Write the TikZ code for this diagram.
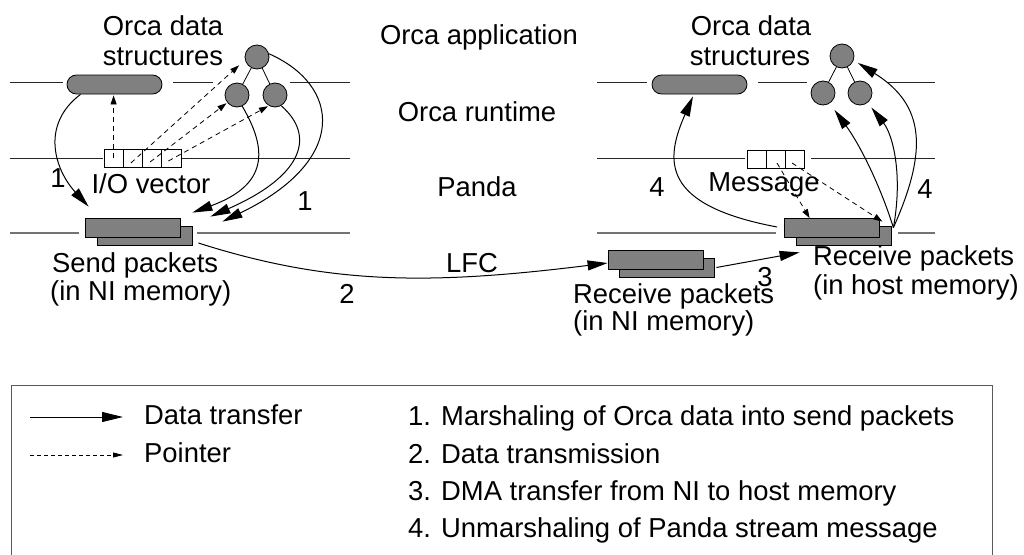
\documentclass[tikz,border=0pt]{standalone}
\usepackage{fontspec}
\setmainfont{Liberation Sans}
\usetikzlibrary{arrows.meta}
\definecolor{fillg}{RGB}{128,128,128}
\begin{document}
\begin{tikzpicture}[x=1pt,y=-1pt,
  lbl/.style={font=\fontsize{27.4}{30}\selectfont, inner sep=0pt},
  layer/.style={line width=1pt, black!85},
  layerb/.style={line width=1.5pt, black!55},
  pill/.style={draw=black, line width=0.8pt, fill=fillg, rounded corners=9.5pt, minimum width=95pt, minimum height=19pt, inner sep=0pt},
  dnode/.style={circle, draw=black, line width=0.8pt, fill=fillg, minimum size=24pt, inner sep=0pt},
  pkt/.style={draw=black, line width=0.8pt, fill=fillg, minimum width=95pt, minimum height=19pt, inner sep=0pt},
  cell/.style={draw=black, line width=0.6pt, fill=white, minimum width=19.25pt, minimum height=18pt, inner sep=0pt},
  data/.style={line width=1pt, -{Triangle[length=20pt,width=10pt]}},
  ptr/.style={line width=0.8pt, dash pattern=on 5pt off 4pt, -{Triangle[length=9pt,width=6pt]}},
  lptr/.style={line width=0.8pt, dash pattern=on 4pt off 3pt, -{Triangle[length=10pt,width=5pt]}},
  ldata/.style={line width=1pt, -{Triangle[length=21pt,width=10pt]}}
]
\useasboundingbox (0,0) rectangle (1024,554);

% layer lines
\draw[layer] (10,82) -- (63,82) (173,82) -- (213,82) (290,82) -- (350,82);
\draw[layer] (597,82) -- (647,82) (758,82) -- (807,82) (887,82) -- (935,82);
\draw[layer] (10,158) -- (103,158) (181,158) -- (350,158);
\draw[layer] (597,158) -- (745,158) (811,158) -- (935,158);
\draw[layerb] (10,233) -- (79,233) (197,233) -- (350,233);
\draw[layerb] (597,233) -- (776,233) (898,233) -- (935,233);

% left structures
\node[pill] (pL) at (114.5,84.5) {};
\node[dnode] (cLt) at (257,57) {};
\node[dnode] (cLl) at (237,95) {};
\node[dnode] (cLr) at (275,95) {};
\draw[line width=0.8pt] (cLt) -- (cLl);
\draw[line width=0.8pt] (cLt) -- (cLr);

% I/O vector
\node[cell] (io1) at (113.6,158) {};
\node[cell] (io2) at (132.9,158) {};
\node[cell] (io3) at (152.1,158) {};
\node[cell] (io4) at (171.4,158) {};

% send packets
\node[pkt] (sendB) at (144.5,236) {};
\node[pkt] (sendF) at (132.5,228) {};

% right structures
\node[pill] (pR) at (699.5,84.5) {};
\node[dnode] (rLt) at (842,56) {};
\node[dnode] (rLl) at (823,93) {};
\node[dnode] (rLr) at (860,93) {};
\draw[line width=0.8pt] (rLt) -- (rLl);
\draw[line width=0.8pt] (rLt) -- (rLr);

% message
\node[cell, minimum width=19pt] (msg1) at (756.5,159.5) {};
\node[cell, minimum width=19pt] (msg2) at (775.5,159.5) {};
\node[cell, minimum width=19pt] (msg3) at (794.5,159.5) {};

% NI receive packets
\node[pkt] (niB) at (666.5,267.5) {};
\node[pkt] (niF) at (655.5,260) {};
% host receive packets
\node[pkt] (hostB) at (843.5,236) {};
\node[pkt] (hostF) at (832,228) {};

% pointers left
\draw[ptr] (io1.center) -- ([yshift=-1pt]io1.center |- pL.south);
\draw[ptr] ([xshift=-2pt,yshift=-5pt]io2.center) -- (cLt.194) [shorten >=8pt];
\draw[ptr, shorten >=1pt] ([xshift=-2pt,yshift=-4pt]io3.center) -- (cLl.218);
\draw[ptr, shorten >=1pt] ([xshift=-3pt,yshift=-3pt]io4.center) -- (cLr.240);

% data left
\draw[data] ([xshift=-34pt]pL.south) .. controls (40,125) and (55,170) .. ([xshift=4pt,yshift=11.5pt]sendF.north west);
\draw[data] (cLl.295) .. controls (268,150) and (268,185) .. ([xshift=12pt,yshift=5.5pt]sendF.north east);
\draw[data] (cLr.300) .. controls (315,135) and (305,175) .. ([xshift=30pt,yshift=1.5pt]sendF.north east);
\draw[data] (cLt.15) .. controls (340,85) and (350,160) .. ([xshift=42pt,yshift=-3.5pt]sendF.north east);

% LFC
\draw[data] ([xshift=6pt,yshift=-7pt]sendB.east) .. controls (330,285) and (430,285) .. ([yshift=-3pt]niF.west);
% DMA
\draw[data] ([xshift=2pt]niB.east) -- ([xshift=4pt,yshift=-6.5pt]hostB.south west);

% pointers right
\draw[ptr] ([xshift=1.5pt,yshift=-3.5pt]msg2.center) -- ([xshift=25.5pt]hostF.north west);
\draw[ptr] ([xshift=-2.5pt,yshift=-3.5pt]msg3.center) -- ([xshift=2.5pt,yshift=-3.5pt]hostF.north east);

% data right
\draw[data] ([xshift=-7pt,yshift=1pt]hostF.west) .. controls (660,205) and (665,160) .. ([xshift=-6.5pt,yshift=-2pt]pR.south);
\draw[data, shorten >=8pt] ([xshift=2pt,yshift=-1.5pt]hostB.north east) .. controls (880,185) and (860,145) .. (rLl.303);
\draw[data, shorten >=6pt] ([xshift=2pt,yshift=-1.5pt]hostB.north east) .. controls (903,175) and (893,135) .. (rLr.308);
\draw[data, shorten >=5pt] ([xshift=2pt,yshift=-1.5pt]hostB.north east) .. controls (928,150) and (925,105) .. (rLt.340);

% labels
\node[lbl, anchor=base] (tApp) at (479,44) {Orca application};
\node[lbl, anchor=base] (tRt) at (477,121) {Orca runtime};
\node[lbl, anchor=base] (tPanda) at (477,196) {Panda};
\node[lbl, anchor=base] (tOdL1) at (163,35) {Orca data};
\node[lbl, anchor=base] (tOdL2) at (163,65) {structures};
\node[lbl, anchor=base] (tOdR1) at (751,35) {Orca data};
\node[lbl, anchor=base] (tOdR2) at (750,65) {structures};
\node[lbl, anchor=base] (tIO) at (151,193) {I/O vector};
\node[lbl, anchor=base] (tOne1) at (58,187) {1};
\node[lbl, anchor=base] (tOne2) at (305,210) {1};
\node[lbl, anchor=base west] (tSend1) at (52,272) {Send packets};
\node[lbl, anchor=base west] (tSend2) at (50,300) {(in NI memory)};
\node[lbl, anchor=base] (tLFC) at (472,272) {LFC};
\node[lbl, anchor=base] (tTwo) at (347,303) {2};
\node[lbl, anchor=base west] (tRni1) at (573,303) {Receive packets};
\node[lbl, anchor=base west] (tRni2) at (573,330) {(in NI memory)};
\node[lbl, anchor=base] (tThree) at (765,286) {3};
\node[lbl, anchor=base] (tMsg) at (764,191) {Message};
\node[lbl, anchor=base] (tFour1) at (657,196) {4};
\node[lbl, anchor=base] (tFour2) at (925,198) {4};
\node[lbl, anchor=base west] (tRh1) at (813,265) {Receive packets};
\node[lbl, anchor=base west] (tRh2) at (813,294) {(in host memory)};

% legend
\draw[line width=1pt, black!65] (11,556) -- (11,385) -- (992,385) -- (992,556);
\coordinate (lgDa) at (30,417);
\coordinate (lgDb) at (123,417);
\coordinate (lgPa) at (30,455);
\coordinate (lgPb) at (123,455);
\draw[ldata] (lgDa) -- (lgDb);
\draw[lptr] (lgPa) -- (lgPb);
\node[lbl, anchor=base west] (lgT1) at (144,424) {Data transfer};
\node[lbl, anchor=base west] (lgT2) at (144,462) {Pointer};
\node[lbl, anchor=base west] (lgS1) at (408,425) {1. Marshaling of Orca data into send packets};
\node[lbl, anchor=base west] (lgS2) at (408,463) {2. Data transmission};
\node[lbl, anchor=base west] (lgS3) at (408,500) {3. DMA transfer from NI to host memory};
\node[lbl, anchor=base west] (lgS4) at (408,537) {4. Unmarshaling of Panda stream message};
\end{tikzpicture}
\end{document}
